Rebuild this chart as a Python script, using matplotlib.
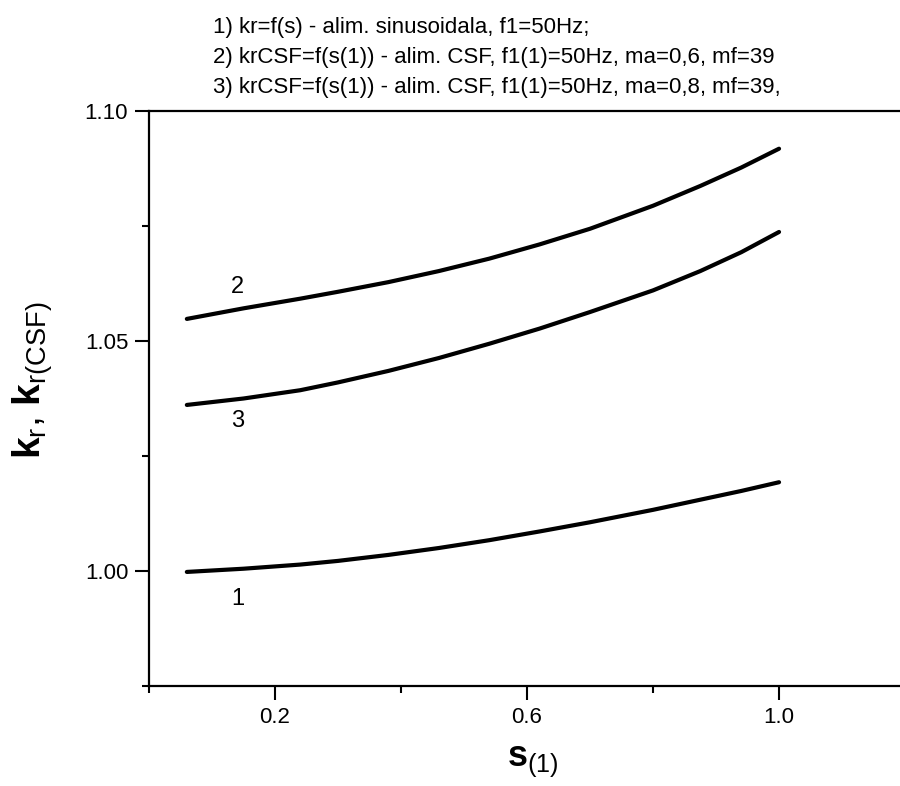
"""
k_r vs s(1) for sinusoidal and CSF supply
"""

import matplotlib
matplotlib.use("Agg")
import matplotlib.pyplot as plt

plt.rcParams['font.family'] = ['Liberation Sans', 'DejaVu Sans']
plt.rcParams['mathtext.fontset'] = 'custom'
plt.rcParams['mathtext.rm'] = 'Liberation Sans'
plt.rcParams['mathtext.it'] = 'Liberation Sans'
plt.rcParams['mathtext.bf'] = 'Liberation Sans:bold'

# DATA
s_values = [0.06, 0.15, 0.24, 0.30, 0.38, 0.46, 0.54, 0.62, 0.70, 0.80, 0.875, 0.94, 1.0]
kr_sin = [0.9998, 1.0005, 1.0014, 1.0022, 1.0035, 1.0050, 1.0067, 1.0086,
          1.0106, 1.0133, 1.0155, 1.0174, 1.0193]
kr_csf_06 = [1.0548, 1.0571, 1.0592, 1.0607, 1.0628, 1.0652, 1.0679, 1.0710,
             1.0744, 1.0794, 1.0837, 1.0877, 1.0918]
kr_csf_08 = [1.0361, 1.0375, 1.0393, 1.0410, 1.0435, 1.0463, 1.0494, 1.0527,
             1.0563, 1.0610, 1.0652, 1.0693, 1.0737]

curve_labels = ["1", "2", "3"]
label_x = [0.141, 0.141, 0.141]
label_y = [0.9939, 1.0617, 1.0326]

title_lines = [
    "1) kr=f(s) - alim. sinusoidala, f1=50Hz;",
    "2) krCSF=f(s(1)) - alim. CSF, f1(1)=50Hz, ma=0,6, mf=39",
    "3) krCSF=f(s(1)) - alim. CSF, f1(1)=50Hz, ma=0,8, mf=39,",
]

x_major = [0.2, 0.6, 1.0]
x_minor = [0.0, 0.4, 0.8]
y_major = [1.00, 1.05, 1.10]
y_minor = [0.975, 1.025, 1.075]


# VIEW
fig = plt.figure(figsize=(9, 7.86), dpi=100)
ax = fig.add_axes([0.1656, 0.1272, 0.84, 0.7316])

for ys in (kr_sin, kr_csf_06, kr_csf_08):
    ax.plot(s_values, ys, color='black', linewidth=3,
            solid_capstyle='round', solid_joinstyle='round')

for lab, lx, ly in zip(curve_labels, label_x, label_y):
    ax.text(lx, ly, lab, fontsize=17, ha='center', va='center')

ax.set_xlim(0.0, 1.2)
ax.set_ylim(0.975, 1.10)
ax.set_xticks(x_major)
ax.set_xticklabels(["0.2", "0.6", "1.0"])
ax.set_xticks(x_minor, minor=True)
ax.set_yticks(y_major)
ax.set_yticklabels(["1.00", "1.05", "1.10"])
ax.set_yticks(y_minor, minor=True)
ax.tick_params(which='both', direction='out', width=1.5, labelsize=16)
ax.tick_params(which='major', length=10, pad=5)
ax.tick_params(which='minor', length=5)
ax.spines['right'].set_visible(False)
for sp in ('left', 'bottom', 'top'):
    ax.spines[sp].set_linewidth(1.6)

ax.set_xlabel(r'$\mathbf{s}_{(1)}$', fontsize=26)
ax.xaxis.set_label_coords(0.508, -0.1)
ax.set_ylabel(r'$\mathbf{k}_{\mathrm{r}}$, $\mathbf{k}_{\mathrm{r(CSF)}}$', fontsize=28)
ax.yaxis.set_label_coords(-0.125, 0.532)

for i, line in enumerate(title_lines):
    fig.text(213 / 900, 1 - (28 + 30 * i) / 786, line, fontsize=16,
             ha='left', va='center')

plt.savefig("out.png", dpi=100)
